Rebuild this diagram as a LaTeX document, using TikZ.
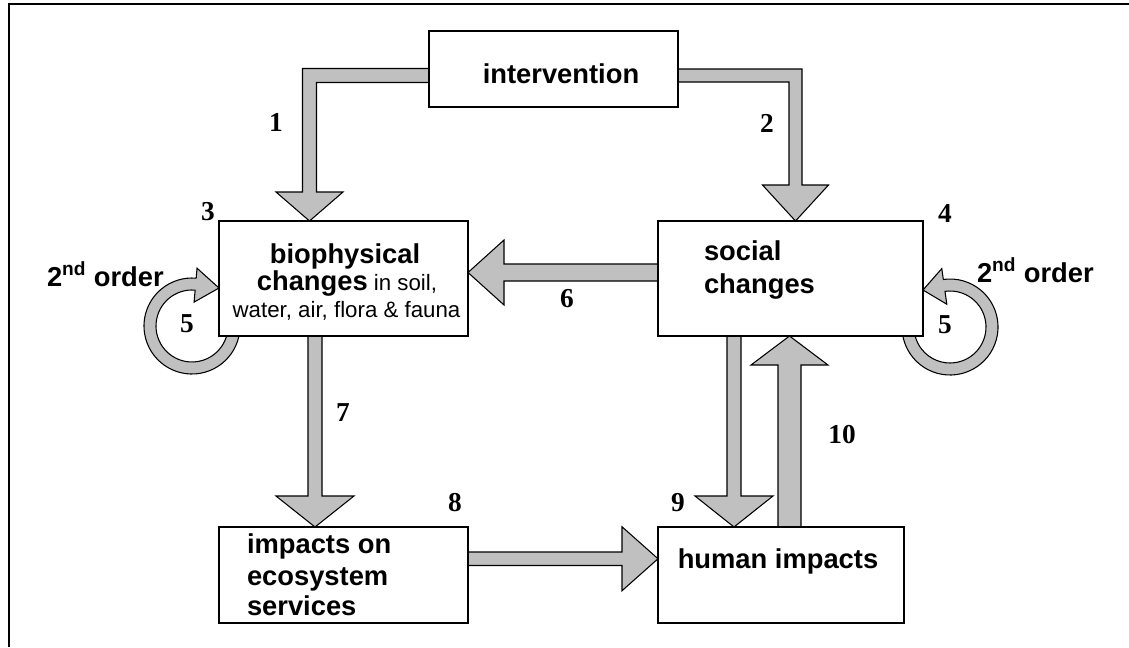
\documentclass[tikz,border=0pt]{standalone}
\usepackage{fontspec}
\newfontfamily\arialf{Liberation Sans}
\newfontfamily\timesf{Liberation Serif}
\usetikzlibrary{calc,backgrounds}
\definecolor{arrowgray}{HTML}{C0C0C0}
\tikzset{
  box/.style={draw=black, line width=1pt, fill=white, inner sep=0pt, outer sep=0pt},
  txt/.style={inner sep=0pt, outer sep=0pt},
  labb/.style={txt, font=\arialf\bfseries\fontsize{20.5pt}{24pt}\selectfont},
  labr/.style={txt, font=\arialf\fontsize{16.7pt}{20pt}\selectfont},
  num/.style={txt, font=\timesf\bfseries\fontsize{20.5pt}{24pt}\selectfont},
  fatfill/.style={fill=arrowgray, draw=black, line width=0.8pt, line join=miter},
  fatarrow/.style n args={3}{
    fatfill,
    to path={
      -- ($(\tikztostart)!#1!90:(\tikztotarget)$)
      -- ($(\tikztotarget)!#3!(\tikztostart)!#1!-90:(\tikztostart)$)
      -- ($(\tikztotarget)!#3!(\tikztostart)!#2!-90:(\tikztostart)$)
      -- (\tikztotarget)
      -- ($(\tikztotarget)!#3!(\tikztostart)!#2!90:(\tikztostart)$)
      -- ($(\tikztotarget)!#3!(\tikztostart)!#1!90:(\tikztostart)$)
      -- ($(\tikztostart)!#1!-90:(\tikztotarget)$)
      -- cycle
    }
  }
}
\begin{document}
\begin{tikzpicture}[x=0.75pt,y=0.75pt]
\useasboundingbox (0,0) rectangle (1129,-647);
% frame
\draw[line width=1.3pt] (1129,-4) -- (9,-4) -- (9,-647);

% boxes
\node[box, minimum width=186.75pt, minimum height=57pt] (intv) at (553.5,-69) {};
\node[box, minimum width=186.75pt, minimum height=86.25pt] (bio) at (343.5,-278.5) {};
\node[box, minimum width=198.75pt, minimum height=86.25pt] (soc) at (790.5,-278.5) {};
\node[box, minimum width=186.75pt, minimum height=72pt] (imp) at (343.5,-575) {};
\node[box, minimum width=184.5pt, minimum height=72pt] (hum) at (781,-575) {};

% connector end points
\coordinate (a1s) at ($(intv.west)+(0,-6.5)$);
\coordinate (a1t) at ($(bio.north)+(-34,0)$);
\coordinate (a2s) at ($(intv.east)+(0,-6.5)$);
\coordinate (a2t) at ($(soc.north)+(5,0)$);
\coordinate (a6s) at ($(soc.west)+(0,6)$);
\coordinate (a6t) at ($(bio.east)+(0,6)$);
\coordinate (a7s) at ($(bio.south)+(-28.5,0)$);
\coordinate (a7t) at ($(imp.north)+(-28.5,0)$);
\coordinate (a8s) at ($(imp.east)+(0,16.25)$);
\coordinate (a8t) at ($(hum.west)+(0,16.25)$);
\coordinate (a9s) at ($(soc.south)+(-56.5,0)$);
\coordinate (a9t) at ($(hum.north)+(-47,0)$);
\coordinate (a10s) at ($(hum.north)+(8.5,0)$);
\coordinate (a10t) at ($(soc.south)+(-1,0)$);
\coordinate (cL) at ($(bio.west)+(-27,-47.5)$);
\coordinate (tipL) at ($(bio.west)+(0,-9.5)$);
\coordinate (cR) at ($(soc.east)+(27,-48.5)$);
\coordinate (tipR) at ($(soc.east)+(0,-11.5)$);

\begin{scope}[on background layer]
% arrow 1 (bent)
\draw[fatfill] let \p1=(a1s), \p2=(a1t) in
  (\x1,\y1+5.25pt) -- (\x2-5.25pt,\y1+5.25pt) -- (\x2-5.25pt,\y2+21.75pt)
  -- (\x2-25.125pt,\y2+21.75pt) -- (\x2,\y2) -- (\x2+25.125pt,\y2+21.75pt)
  -- (\x2+5.25pt,\y2+21.75pt) -- (\x2+5.25pt,\y1-5.25pt) -- (\x1,\y1-5.25pt) -- cycle;
% arrow 2 (bent)
\draw[fatfill] let \p1=(a2s), \p2=(a2t) in
  (\x1,\y1+4.875pt) -- (\x2+4.875pt,\y1+4.875pt) -- (\x2+4.875pt,\y2+27pt)
  -- (\x2+24.75pt,\y2+27pt) -- (\x2,\y2) -- (\x2-24.75pt,\y2+27pt)
  -- (\x2-4.875pt,\y2+27pt) -- (\x2-4.875pt,\y1-4.875pt) -- (\x1,\y1-4.875pt) -- cycle;
% straight arrows
\draw[fatarrow={6.375pt}{24.375pt}{27pt}] (a6s) to (a6t);
\draw[fatarrow={5.25pt}{29.25pt}{23.25pt}] (a7s) to (a7t);
\draw[fatarrow={5.0625pt}{24pt}{27pt}] (a8s) to (a8t);
\draw[fatarrow={5.25pt}{29.25pt}{23.25pt}] (a9s) to (a9t);
\draw[fatarrow={8.625pt}{28.875pt}{21.75pt}] (a10s) to (a10t);
% loop arrows (5)
\draw[fatfill] ($(cL)+(10:48)$) arc[start angle=10, end angle=-275, radius=48]
  -- ($(cL)+(85:58)$) -- (tipL) -- ($(cL)+(85:24)$) -- ($(cL)+(85:36)$)
  arc[start angle=-275, end angle=10, radius=36] -- cycle;
\draw[fatfill] ($(cR)+(170:48)$) arc[start angle=170, end angle=458, radius=48]
  -- ($(cR)+(98:59)$) -- (tipR) -- ($(cR)+(98:23)$) -- ($(cR)+(98:36)$)
  arc[start angle=458, end angle=170, radius=36] -- cycle;
\end{scope}

% texts
\node[labb, anchor=base] (tintv) at (561,-83) {intervention};
\node[labb, anchor=base] (tbio1) at (345,-263) {biophysical};
\node[labr, anchor=base] (tbio2) at (347,-290) {{\bfseries\fontsize{20.5pt}{24pt}\selectfont changes} in soil,};
\node[labr, anchor=base] (tbio3) at (346.5,-317) {water, air, flora \& fauna};
\node[labb, anchor=base west] (tsoc1) at (704,-260) {social};
\node[labb, anchor=base west] (tsoc2) at (704,-293) {changes};
\node[labb, anchor=base west] (timp1) at (247,-553) {impacts on};
\node[labb, anchor=base west] (timp2) at (247,-585) {ecosystem};
\node[labb, anchor=base west] (timp3) at (247,-615) {services};
\node[labb, anchor=base] (thum) at (778,-568) {human impacts};
\node[labb, anchor=base west] (ordL) at (47,-286) {2\textsuperscript{nd} order};
\node[labb, anchor=base west] (ordR) at (977,-282) {2\textsuperscript{nd} order};

% numbers
\node[num] (n1) at (276,-122) {1};
\node[num] (n2) at (767,-123) {2};
\node[num] (n3) at (208,-212) {3};
\node[num] (n4) at (945,-213) {4};
\node[num] (n5L) at (187,-324) {5};
\node[num] (n5R) at (945,-325) {5};
\node[num] (n6) at (567,-299) {6};
\node[num] (n7) at (343,-413) {7};
\node[num] (n8) at (455,-503) {8};
\node[num] (n9) at (678,-503) {9};
\node[num] (n10) at (842,-435) {10};
\end{tikzpicture}
\end{document}
